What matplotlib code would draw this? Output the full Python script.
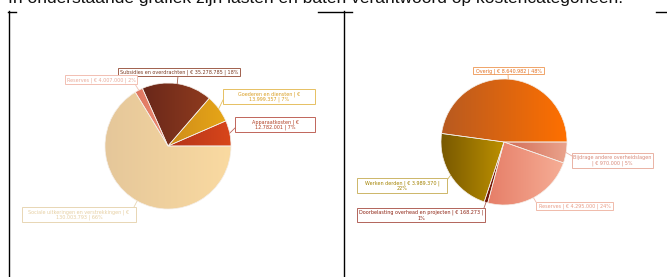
import numpy as np
import matplotlib
matplotlib.use('Agg')
import matplotlib.pyplot as plt
from matplotlib.colors import LinearSegmentedColormap
from matplotlib.patches import Rectangle

W, H = 667, 277

heading = 'In onderstaande grafiek zijn lasten en baten verantwoord op kostencategorieën.'

# left pie: lasten
left_names = ['Apparaatkosten', 'Goederen en diensten', 'Subsidies en overdrachten',
              'Reserves', 'Sociale uitkeringen en verstrekkingen']
left_values = [12782001, 13999357, 35278785, 4007000, 130003793]
left_text = ['Apparaatkosten | €\n12.782.001 | 7%',
             'Goederen en diensten | €\n13.999.357 | 7%',
             'Subsidies en overdrachten | € 35.278.785 | 18%',
             'Reserves | € 4.007.000 | 2%',
             'Sociale uitkeringen en verstrekkingen | €\n130.003.793 | 66%']

# right pie: baten
right_names = ['Overig', 'Werken derden', 'Doorbelasting overhead en projecten',
               'Reserves', 'Bijdrage andere overheidslagen']
right_values = [8640982, 3989370, 168273, 4295000, 970000]
right_text = ['Overig | € 8.640.982 | 48%',
              'Werken derden | € 3.989.370 |\n22%',
              'Doorbelasting overhead en projecten | € 168.273 |\n1%',
              'Reserves | € 4.295.000 | 24%',
              'Bijdrage andere overheidslagen\n| € 970.000 | 5%']

# gradient (left, right) per slice
left_grad = [('#B3331A', '#D8461A'), ('#CF8C1A', '#E6A617'), ('#69271A', '#8F3B1E'),
             ('#DE7660', '#EE8E76'), ('#E5C79A', '#FADAA1')]
right_grad = [('#B85A20', '#FF7000'), ('#785800', '#BC9000'), ('#6A1406', '#8C220C'),
              ('#E67E68', '#F6AE96'), ('#D26C56', '#EAA38C')]

# label styling: (text colour, box edge colour)
left_lab_col = [('#B03E22', '#C0655A'), ('#D99E22', '#E6C062'), ('#7A3A22', '#A0604C'),
                ('#E9AA9A', '#F2BFB2'), ('#E6CFA2', '#E8D6B4')]
right_lab_col = [('#E27022', '#F0A468'), ('#A38200', '#CDB668'), ('#8E2414', '#B2645A'),
                 ('#E89C86', '#F0BAAA'), ('#D88A7A', '#EAB2A4')]

# label boxes (x0, y0, x1, y1) and connector end points, pixels from top-left
left_box = [(235, 117, 315, 132), (223, 89, 315, 104), (118, 68, 240, 76),
            (65, 75, 137, 84), (22, 207, 136, 222)]
left_lab_end = [(235, 128), (223, 100), (178, 76), (135, 84), (134, 207)]
right_box = [(473, 67, 544, 74), (357, 178, 447, 193), (357, 208, 485, 222),
             (536, 202, 613, 210), (572, 153, 653, 168)]
right_lab_end = [(508, 74), (447, 180), (484, 208), (536, 202), (572, 156)]


def Y(py):
    return H - py


def gradient_pie(ax, values, grads, centre, r):
    cx, cy = centre
    wedges, _ = ax.pie(values, startangle=0, counterclock=True, center=(cx, Y(cy)),
                       radius=r, colors=[g[1] for g in grads],
                       wedgeprops=dict(edgecolor='#F4EEE8', linewidth=0.5))
    for w, (c0, c1) in zip(wedges, grads):
        t = np.radians(np.linspace(w.theta1, w.theta2, 100))
        xs = np.r_[cx, cx + r * np.cos(t)]
        ys = np.r_[Y(cy), Y(cy) + r * np.sin(t)]
        cmap = LinearSegmentedColormap.from_list('g', [c0, c1])
        im = ax.imshow(np.linspace(0, 1, 256)[None, :], cmap=cmap, aspect='auto',
                       extent=[xs.min(), xs.max(), ys.min(), ys.max()],
                       interpolation='bilinear', zorder=0.9)
        im.set_clip_path(w)
        w.set_facecolor('none')
    return wedges


def labels(ax, wedges, texts, cols, boxes, ends, centre, r):
    cx, cy = centre
    out = []
    for w, s, (tc, ec), (x0, y0, x1, y1), (ex, ey) in zip(wedges, texts, cols, boxes, ends):
        a = np.radians((w.theta1 + w.theta2) / 2)
        ax.plot([cx + r * np.cos(a), ex], [Y(cy) + r * np.sin(a), Y(ey)],
                color=ec, lw=0.6, zorder=2)
        ax.add_patch(Rectangle((x0, Y(y1)), x1 - x0, y1 - y0, fc='white', ec=ec,
                               lw=0.7, zorder=3))
        t = ax.text((x0 + x1) / 2, Y((y0 + y1) / 2 + 0.3), s, ha='center', va='center',
                    fontsize=4.5, family='Liberation Sans Narrow', color=tc,
                    linespacing=1.1, zorder=4)
        out.append((t, x1 - x0 - 3))
    return out


fig = plt.figure(figsize=(W / 100, H / 100), dpi=100)
ax = fig.add_axes([0, 0, 1, 1])

lw_ = gradient_pie(ax, left_values, left_grad, (168, 146), 63)
rw_ = gradient_pie(ax, right_values, right_grad, (504, 142), 63)
texts = labels(ax, lw_, left_text, left_lab_col, left_box, left_lab_end, (168, 146), 63)
texts += labels(ax, rw_, right_text, right_lab_col, right_box, right_lab_end, (504, 142), 63)

# frame lines of the two boxes
for x in (8.5, 343.5):
    ax.plot([x, x], [Y(11), Y(278)], color='black', lw=1)
for x0, x1 in ((8, 16), (318, 352), (656, 668)):
    ax.plot([x0, x1], [Y(11.5), Y(11.5)], color='black', lw=1)

head = ax.text(8, Y(3), heading, ha='left', va='baseline', fontsize=11,
               family='Liberation Sans', color='#111111')

ax.set_xlim(0, W)
ax.set_ylim(0, H)
ax.set_aspect('auto')
ax.axis('off')

# one font size for all labels, small enough to fit every box
fig.canvas.draw()
head.set_fontsize(11 * 612 / head.get_window_extent().width)
scale = min(wmax / t.get_window_extent().width for t, wmax in texts)
for t, _ in texts:
    t.set_fontsize(4.5 * min(scale, 1.0))

fig.savefig('out.png', dpi=100)
